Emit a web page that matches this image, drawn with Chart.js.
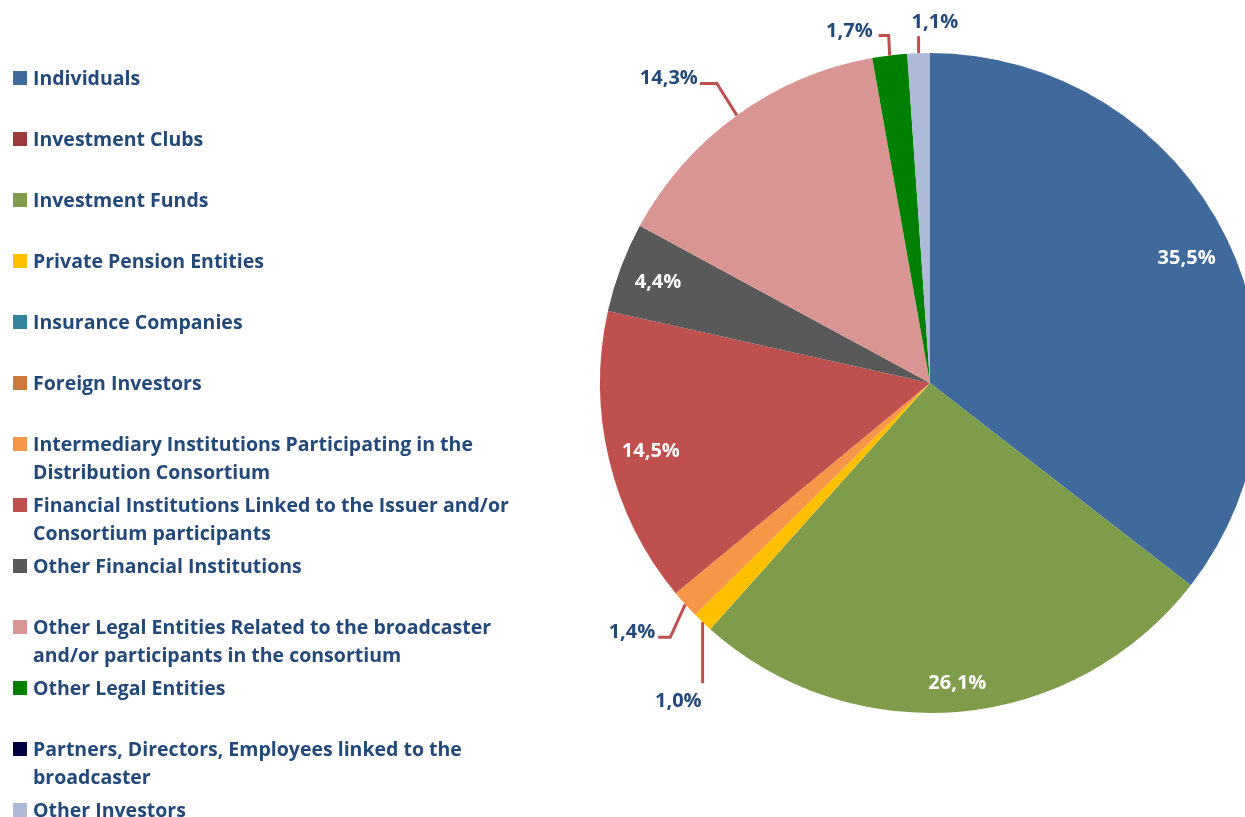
<!DOCTYPE html>
<html>
<head>
<meta charset="utf-8">
<script src="https://cdn.jsdelivr.net/npm/chart.js@4"></script>
<style>
html, body { margin: 0; padding: 0; overflow: hidden; background: #fff; width: 1245px; height: 817px; }
#wrap { position: absolute; left: 0; top: 0; width: 1320px; height: 817px; }
#legend { position: absolute; left: 13px; top: 0; font-family: 'Open Sans', sans-serif; font-weight: bold; font-size: 19.5px; color: #23487a; }
.item { position: absolute; left: 0; display: flex; }
.sw { width: 14px; height: 14px; margin-top: 7px; margin-right: 6px; flex: none; }
.txt { width: 492px; line-height: 28px; }
</style>
</head>
<body>
<div id="wrap"><canvas id="pie"></canvas></div>
<div id="legend"></div>
<script>
// categories and shares (%)
const labels = [
    'Individuals',
    'Investment Clubs',
    'Investment Funds',
    'Private Pension Entities',
    'Insurance Companies',
    'Foreign Investors',
    'Intermediary Institutions Participating in the Distribution Consortium',
    'Financial Institutions Linked to the Issuer and/or Consortium participants',
    'Other Financial Institutions',
    'Other Legal Entities Related to the broadcaster and/or participants in the consortium',
    'Other Legal Entities',
    'Partners, Directors, Employees linked to the broadcaster',
    'Other Investors'
];
const values = [35.5, 0, 26.1, 1.0, 0, 0, 1.4, 14.5, 4.4, 14.3, 1.7, 0, 1.1];
const colors = ['#416a9c', '#9b3b3b', '#7f9c4a', '#ffc000', '#31849b', '#cc7a3c', '#f79646',
                '#c0504d', '#595959', '#d99594', '#008000', '#000040', '#adbad8'];

// legend (html, built from the arrays)
const legend = document.getElementById('legend');
labels.forEach((lab, i) => {
    const it = document.createElement('div');
    it.className = 'item';
    it.style.top = (64 + 61 * i) + 'px';
    it.innerHTML = '<div class="sw" style="background:' + colors[i] + '"></div><div class="txt">' + lab + '</div>';
    legend.appendChild(it);
});

// how each slice gets its label: inside (radius fraction), or with a leader line (offsets from the arc edge)
const labelStyle = {
    0: { inside: 0.866 },
    2: { inside: 0.91 },
    7: { inside: 0.87 },
    8: { inside: 0.88 },
    9: { pts: [[-20, -32], [-37, -32]], tx: -39, ty: -37, align: 'right' },
    10: { pts: [[-1, -20], [-11, -20]], tx: -17, ty: -24, align: 'right' },
    12: { pts: [[0, -17]], tx: -7, ty: -31, align: 'left' },
    6: { pts: [[-15, 33], [-27, 33]], tx: -30, ty: 28, align: 'right' },
    3: { pts: [[0, 61]], tx: -1, ty: 79, align: 'right' }
};

const fmt = v => v.toFixed(1).replace('.', ',') + '%';

const sliceLabels = {
    id: 'sliceLabels',
    afterDatasetsDraw(chart) {
        const ctx = chart.ctx;
        const meta = chart.getDatasetMeta(0);
        ctx.save();
        ctx.font = 'bold 20px "Open Sans", sans-serif';
        ctx.textBaseline = 'middle';
        meta.data.forEach((arc, i) => {
            const st = labelStyle[i];
            if (!st || !values[i]) return;
            const p = arc.getProps(['x', 'y', 'startAngle', 'endAngle', 'outerRadius'], true);
            const mid = (p.startAngle + p.endAngle) / 2;
            if (st.inside) {
                const r = p.outerRadius * st.inside;
                ctx.fillStyle = '#ffffff';
                ctx.textAlign = 'center';
                ctx.fillText(fmt(values[i]), p.x + Math.cos(mid) * r, p.y + Math.sin(mid) * r + 1);
                return;
            }
            const ex = p.x + Math.cos(mid) * p.outerRadius;
            const ey = p.y + Math.sin(mid) * p.outerRadius;
            ctx.strokeStyle = '#c0504d';
            ctx.lineWidth = 3;
            ctx.beginPath();
            ctx.moveTo(ex, ey);
            st.pts.forEach(q => ctx.lineTo(ex + q[0], ey + q[1]));
            ctx.stroke();
            ctx.fillStyle = '#23487a';
            ctx.textAlign = st.align;
            ctx.fillText(fmt(values[i]), ex + st.tx, ey + st.ty);
        });
        ctx.restore();
    }
};

new Chart(document.getElementById('pie'), {
    type: 'pie',
    data: {
        labels: labels,
        datasets: [{
            data: values,
            backgroundColor: colors,
            borderWidth: 0
        }]
    },
    options: {
        responsive: true,
        maintainAspectRatio: false,
        animation: false,
        layout: { padding: { left: 600, top: 53, right: 60, bottom: 104 } },
        plugins: {
            legend: { display: false },
            tooltip: { enabled: false }
        }
    },
    plugins: [sliceLabels]
});
</script>
</body>
</html>
